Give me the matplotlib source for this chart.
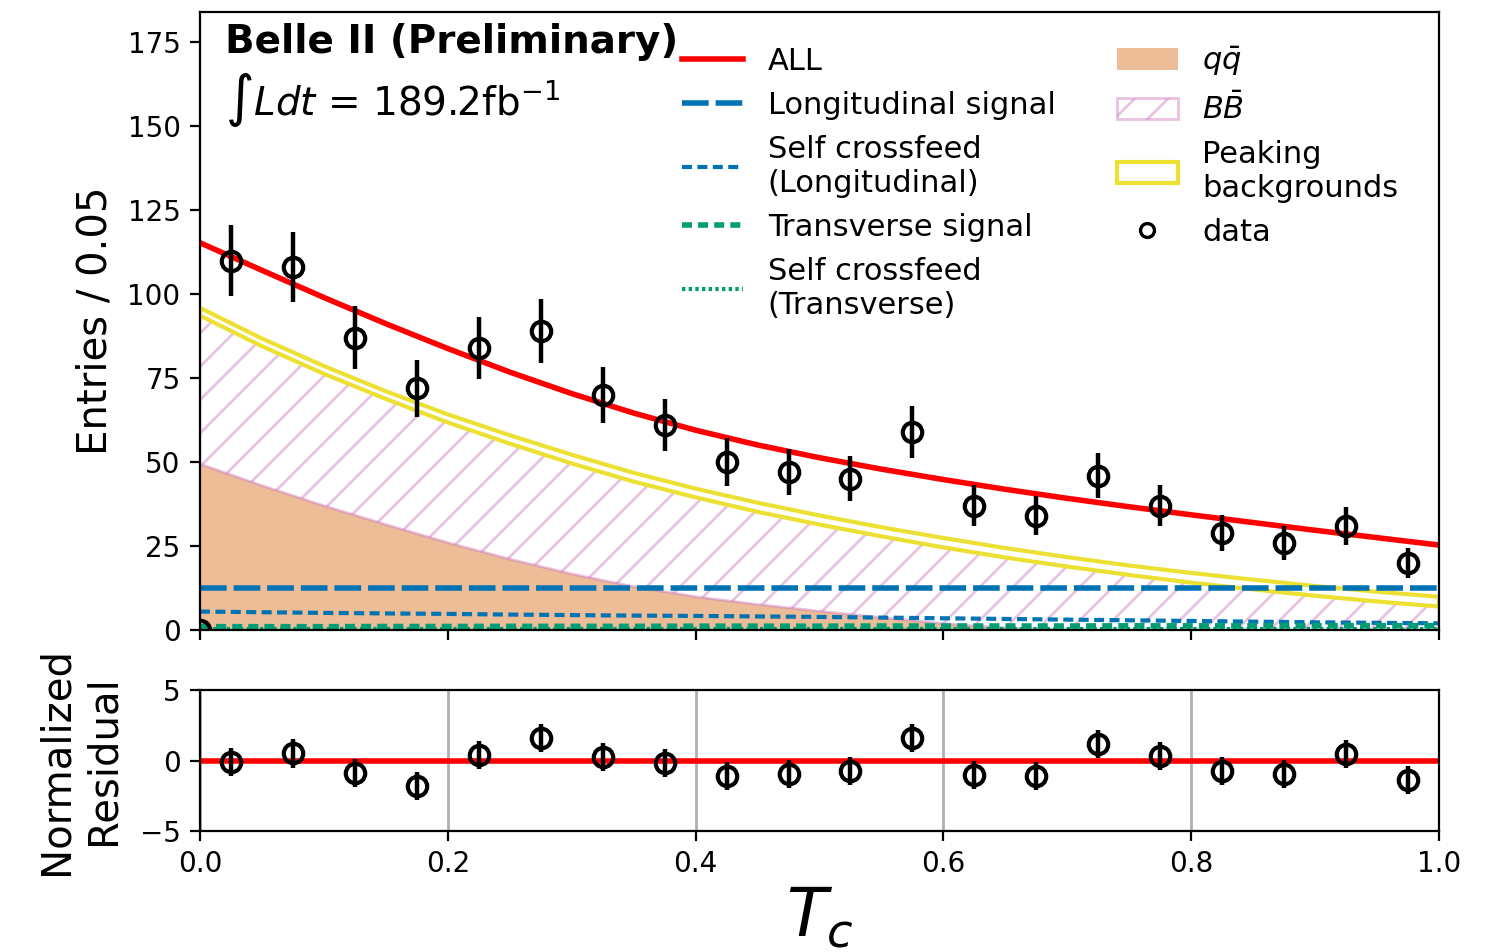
import numpy as np
import matplotlib
matplotlib.use("Agg")
import matplotlib.pyplot as plt
from matplotlib.lines import Line2D

# ---- data ----
# bin centres and observed counts
bin_centers = [0.025, 0.075, 0.125, 0.175, 0.225, 0.275, 0.325, 0.375, 0.425, 0.475,
               0.525, 0.575, 0.625, 0.675, 0.725, 0.775, 0.825, 0.875, 0.925, 0.975]
data_counts = [110, 108, 87, 72, 84, 89, 70, 61, 50, 47,
               45, 59, 37, 34, 46, 37, 29, 26, 31, 20]
norm_residual = [-0.1, 0.5, -0.9, -1.8, 0.4, 1.6, 0.25, -0.2, -1.1, -0.95,
                 -0.75, 1.6, -1.05, -1.1, 1.15, 0.3, -0.75, -0.95, 0.45, -1.4]

# fit curves sampled along T_c
curve_x = [0.0, 0.05, 0.1, 0.15, 0.2, 0.25, 0.3, 0.35, 0.4, 0.45, 0.5,
           0.55, 0.6, 0.65, 0.7, 0.75, 0.8, 0.85, 0.9, 0.95, 1.0]
all_fit = [115.3, 107.1, 99.0, 91.2, 83.8, 76.8, 70.4, 64.6, 59.5, 55.1, 51.3,
           47.9, 44.8, 41.9, 39.2, 36.7, 34.3, 32.0, 29.7, 27.5, 25.3]
# stacked background tops
qq_stack = [49.4, 43.0, 37.0, 31.4, 26.0, 21.1, 16.7, 12.9, 9.9, 7.6, 5.6,
            3.7, 1.9, 0.6, 0.05, 0.0, 0.0, 0.0, 0.0, 0.0, 0.0]
peak_stack = [95.9, 86.8, 78.6, 71.1, 64.2, 58.0, 52.2, 46.8, 42.1, 37.9, 34.1,
              30.6, 27.4, 24.4, 21.7, 19.2, 17.0, 15.0, 13.1, 11.4, 9.9]
peak_width = [2.3, 2.3, 2.3, 2.3, 2.4, 2.5, 2.6, 2.6, 2.6, 2.7, 2.7,
              2.7, 2.8, 2.8, 2.8, 2.8, 2.9, 2.9, 2.9, 2.9, 2.9]
# signal components (not stacked)
long_signal = [12.5] * 21
long_crossfeed = [5.5, 5.3, 5.1, 4.95, 4.8, 4.6, 4.45, 4.3, 4.2, 4.05, 3.9,
                  3.7, 3.5, 3.3, 3.1, 2.9, 2.7, 2.5, 2.3, 2.15, 2.0]
trans_signal = [1.0, 1.0, 1.0, 1.05, 1.05, 1.1, 1.1, 1.1, 1.15, 1.15, 1.15,
                1.2, 1.2, 1.2, 1.2, 1.25, 1.25, 1.25, 1.3, 1.3, 1.3]
trans_crossfeed = [0.4] * 21
stray_marker_x = [0.0]
stray_marker_y = [0.0]

data_err = np.sqrt(data_counts)
bb_stack = np.array(peak_stack) - np.array(peak_width)

# colours
c_red = "#ff0000"
c_blue = "#0173b2"
c_green = "#029e73"
c_qq = "#edbd97"
c_bb = (0.80, 0.47, 0.74, 0.45)
c_peak = "#ece133"

fig = plt.figure(figsize=(1507 / 200, 952 / 200), dpi=200)
ax = fig.add_axes([0.1327, 0.3382, 0.8222, 0.6492])
rax = fig.add_axes([0.1327, 0.1271, 0.8222, 0.1481], sharex=ax)

# backgrounds
h_qq = ax.fill_between(curve_x, 0, qq_stack, facecolor=c_qq, edgecolor="none", lw=0,
                       label=r"$q\bar{q}$")
h_bb = ax.fill_between(curve_x, qq_stack, bb_stack, facecolor="none", edgecolor=c_bb,
                       hatch="//", lw=1.0, label=r"$B\bar{B}$")
h_pk = ax.fill_between(curve_x, bb_stack, peak_stack, facecolor="none", edgecolor=c_peak,
                       lw=1.5, label="Peaking\nbackgrounds")

# signal components
h_ls, = ax.plot(curve_x, long_signal, color=c_blue, lw=2, dashes=(4.8, 1.25),
                label="Longitudinal signal")
h_lc, = ax.plot(curve_x, long_crossfeed, color=c_blue, lw=1.5, dashes=(2.4, 1.3),
                label="Self crossfeed\n(Longitudinal)")
h_ts, = ax.plot(curve_x, trans_signal, color=c_green, lw=2, dashes=(1.8, 1.1),
                label="Transverse signal")
h_tc, = ax.plot(curve_x, trans_crossfeed, color=c_green, lw=1.5, dashes=(0.8, 0.8),
                label="Self crossfeed\n(Transverse)")
h_all, = ax.plot(curve_x, all_fit, color=c_red, lw=2, label="ALL")

# data
ax.errorbar(bin_centers, data_counts, yerr=data_err, fmt="o", mfc="none", mec="black",
            ecolor="black", ms=7, mew=1.5, elinewidth=1.6, zorder=10)
ax.plot(stray_marker_x, stray_marker_y, "o", mfc="none", mec="black", ms=7, mew=1.5,
        zorder=10)
h_data = Line2D([], [], ls="none", marker="o", mfc="none", mec="black", ms=5, mew=1.2,
                label="data")

ax.set_xlim(0, 1)
ax.set_ylim(0, 184)
ax.set_yticks([0, 25, 50, 75, 100, 125, 150, 175])
ax.tick_params(labelbottom=False, labelsize=10)
ax.set_ylabel("Entries / 0.05", fontsize=14.5)
ax.yaxis.set_label_coords(-0.068, 0.5)

ax.text(0.02, 0.934, "Belle II (Preliminary)", transform=ax.transAxes, fontsize=14,
        fontweight="bold", va="baseline", ha="left")
ax.text(0.02, 0.833, r"$\int Ldt$ = 189.2fb$^{-1}$", transform=ax.transAxes,
        fontsize=14, va="baseline", ha="left")

handles = [h_all, h_ls, h_lc, h_ts, h_tc, h_qq, h_bb, h_pk, h_data]
ax.legend(handles=handles, ncol=2, frameon=False, fontsize=11, loc="upper right",
          bbox_to_anchor=(0.9895, 0.992))

# residual panel
rax.axhline(0, color=c_red, lw=2, zorder=2)
rax.errorbar(bin_centers, norm_residual, yerr=np.ones(len(norm_residual)), fmt="o",
             mfc="none", mec="black", ecolor="black", ms=7, mew=1.5, elinewidth=1.6,
             zorder=10)
rax.set_ylim(-5, 5)
rax.set_yticks([-5, 0, 5])
rax.set_xticks([0.0, 0.2, 0.4, 0.6, 0.8, 1.0])
rax.grid(axis="x", color="#b0b0b0", lw=1)
rax.tick_params(labelsize=10)
rax.set_ylabel("Normalized\nResidual", fontsize=14.5)
rax.yaxis.set_label_coords(-0.062, 0.5)
rax.set_xlabel(r"$T_c$", fontsize=24, labelpad=2)

fig.savefig("out.png", dpi=200)
